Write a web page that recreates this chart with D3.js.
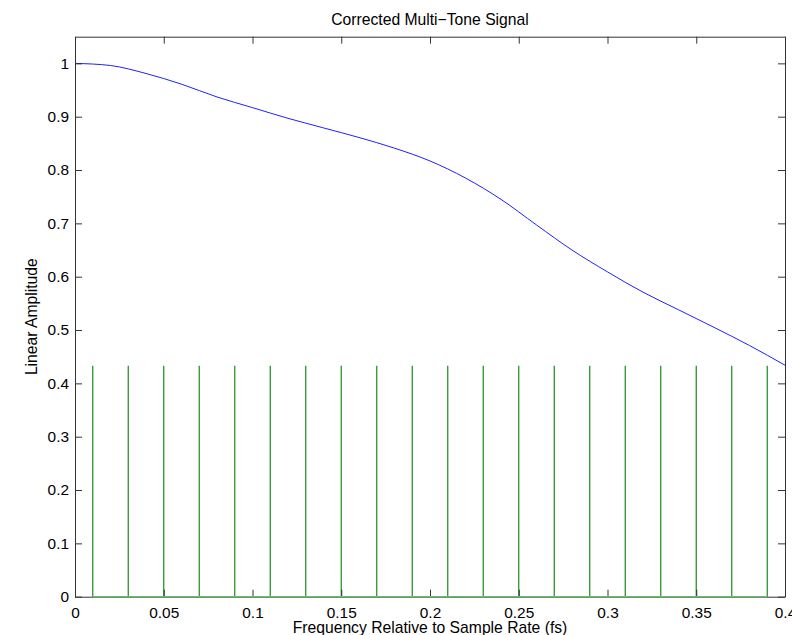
<!DOCTYPE html>
<html>
<head>
<meta charset="utf-8">
<script src="https://cdn.jsdelivr.net/npm/d3@7"></script>
<style>
  html, body { margin: 0; padding: 0; background: #ffffff; }
  svg { display: block; font-family: "Liberation Sans", Arial, Helvetica, sans-serif; }
</style>
</head>
<body>
<svg id="chart" width="792" height="635"></svg>
<script>
// ---- Data ----
const curveFreqs = [0.00, 0.02, 0.04, 0.06, 0.08, 0.10, 0.12, 0.14, 0.16, 0.18, 0.20,
                    0.22, 0.24, 0.26, 0.28, 0.30, 0.32, 0.34, 0.36, 0.38, 0.40];
const curveAmps  = [1.000, 0.996, 0.981, 0.961, 0.937, 0.917, 0.897, 0.879, 0.861, 0.841, 0.817,
                    0.785, 0.745, 0.697, 0.650, 0.609, 0.571, 0.538, 0.505, 0.471, 0.434];
const toneFreqs = [0.01, 0.03, 0.05, 0.07, 0.09, 0.11, 0.13, 0.15, 0.17, 0.19,
                   0.21, 0.23, 0.25, 0.27, 0.29, 0.31, 0.33, 0.35, 0.37, 0.39];
const toneAmps  = [0.433, 0.433, 0.433, 0.433, 0.433, 0.433, 0.433, 0.433, 0.433, 0.433,
                   0.433, 0.433, 0.433, 0.433, 0.433, 0.433, 0.433, 0.433, 0.433, 0.433];
const xTickValues = [0, 0.05, 0.1, 0.15, 0.2, 0.25, 0.3, 0.35, 0.4];
const xTickLabels = ["0", "0.05", "0.1", "0.15", "0.2", "0.25", "0.3", "0.35", "0.4"];
const yTickValues = [0, 0.1, 0.2, 0.3, 0.4, 0.5, 0.6, 0.7, 0.8, 0.9, 1];
const yTickLabels = ["0", "0.1", "0.2", "0.3", "0.4", "0.5", "0.6", "0.7", "0.8", "0.9", "1"];
const titleText = "Corrected Multi\u2212Tone Signal";
const xLabelText = "Frequency Relative to Sample Rate (fs)";
const yLabelText = "Linear Amplitude";

// ---- Layout ----
const L = 75, R = 785, T = 36.7, B = 596.7;
const svg = d3.select("#chart");
const x = d3.scaleLinear().domain([0, 0.4]).range([L, R]);
const y = d3.scaleLinear().domain([0, 1.05]).range([B, T]);
const tickLen = 7;
const axisColor = "#333";
const tickFont = "15.4px";
const labelFont = "15.7px";

// Stems
const stems = svg.append("g");
stems.selectAll("line.stem")
  .data(toneFreqs.map((f, i) => ({f, a: toneAmps[i]})))
  .enter().append("line")
  .attr("class", "stem")
  .attr("x1", d => x(d.f)).attr("x2", d => x(d.f))
  .attr("y1", y(0)).attr("y2", d => y(d.a))
  .attr("stroke", "#1a8c1a").attr("stroke-width", 1.2);

// Blue curve
const line = d3.line()
  .x((d, i) => x(curveFreqs[i]))
  .y(d => y(d))
  .curve(d3.curveMonotoneX);
svg.append("path")
  .datum(curveAmps)
  .attr("d", line)
  .attr("fill", "none")
  .attr("stroke", "#2020ff")
  .attr("stroke-width", 1);

// Axes (box with inward ticks on all sides)
const axB = d3.axisBottom(x).tickValues(xTickValues).tickSizeInner(-tickLen).tickSizeOuter(0)
  .tickFormat((d, i) => xTickLabels[i]).tickPadding(10);
const axT = d3.axisTop(x).tickValues(xTickValues).tickSizeInner(-tickLen).tickSizeOuter(0)
  .tickFormat(() => "");
const axLft = d3.axisLeft(y).tickValues(yTickValues).tickSizeInner(-tickLen).tickSizeOuter(0)
  .tickFormat((d, i) => yTickLabels[i]).tickPadding(6);
const axRgt = d3.axisRight(y).tickValues(yTickValues).tickSizeInner(-tickLen).tickSizeOuter(0)
  .tickFormat(() => "");

function style(g) {
  g.select(".domain").attr("stroke", axisColor).attr("stroke-width", 1);
  g.selectAll(".tick line").attr("stroke", axisColor).attr("stroke-width", 1);
  g.selectAll(".tick text").attr("fill", "#000").style("font-size", tickFont)
    .style("font-family", "'Liberation Sans', Arial, Helvetica, sans-serif");
}
svg.append("g").attr("transform", `translate(0,${B})`).call(axB).call(style);
svg.append("g").attr("transform", `translate(0,${T})`).call(axT).call(style);
svg.append("g").attr("transform", `translate(${L},0)`).call(axLft).call(style);
svg.append("g").attr("transform", `translate(${R},0)`).call(axRgt).call(style);

// Green baseline of stems
svg.append("line")
  .attr("x1", x(d3.min(toneFreqs))).attr("x2", x(d3.max(toneFreqs)))
  .attr("y1", y(0)).attr("y2", y(0))
  .attr("stroke", "#6cb86c").attr("stroke-width", 1.5);

// Title & labels
svg.append("text")
  .attr("x", (L + R) / 2).attr("y", 25)
  .attr("text-anchor", "middle").style("font-size", labelFont).attr("fill", "#000")
  .text(titleText);
svg.append("text")
  .attr("x", (L + R) / 2).attr("y", 633)
  .attr("text-anchor", "middle").style("font-size", labelFont).attr("fill", "#000")
  .text(xLabelText);
svg.append("text")
  .attr("transform", `translate(37,${(T + B) / 2}) rotate(-90)`)
  .attr("text-anchor", "middle").style("font-size", labelFont).attr("fill", "#000")
  .text(yLabelText);
</script>
</body>
</html>
